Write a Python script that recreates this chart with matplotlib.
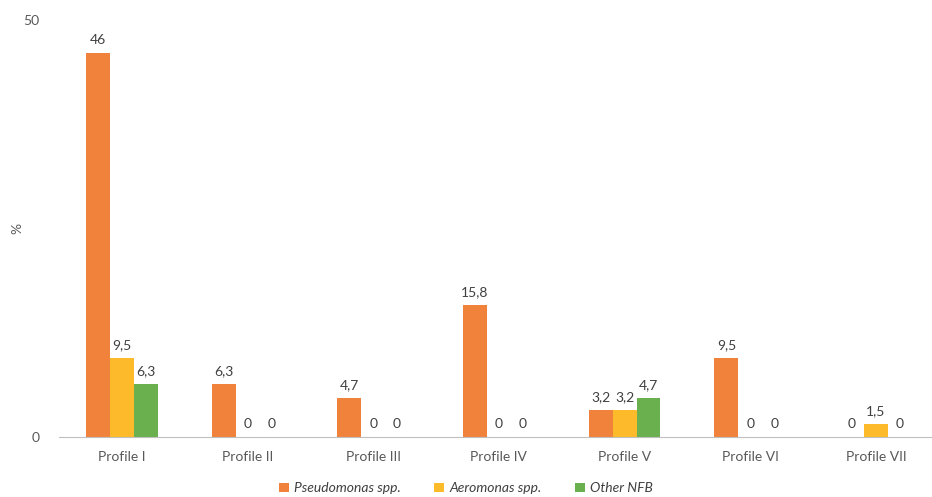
import numpy as np
import matplotlib
matplotlib.use("Agg")
import matplotlib.pyplot as plt

plt.rcParams['font.family'] = ['Lato', 'DejaVu Sans']

profiles = ["Profile I", "Profile II", "Profile III", "Profile IV",
            "Profile V", "Profile VI", "Profile VII"]
pseudomonas = [46, 6.3, 4.7, 15.8, 3.2, 9.5, 0]
aeromonas = [9.5, 0, 0, 0, 3.2, 0, 1.5]
other_nfb = [6.3, 0, 0, 0, 4.7, 0, 0]

series = [("Pseudomonas spp.", pseudomonas, "#F0823C"),
          ("Aeromonas spp.", aeromonas, "#FDBB2B"),
          ("Other NFB", other_nfb, "#6AB04E")]

txt = "#595959"
fig = plt.figure(figsize=(9.32, 4.97), dpi=100)
ax = fig.add_axes([0.0633, 0.121, 0.944, 0.839])

x = np.arange(len(profiles))
w = 0.19
for k, (name, vals, col) in enumerate(series):
    pos = x + (k - 1) * w
    bars = ax.bar(pos, vals, width=w, color=col, label=name)
    for p, v in zip(pos, vals):
        lab = ("%g" % v).replace(".", ",")
        ax.annotate(lab, (p, v), xytext=(0, 5), textcoords="offset points",
                    ha="center", va="bottom", fontsize=10, color="#404040")

ax.set_xlim(-0.5, len(profiles) - 0.5)
ax.set_ylim(0, 50)
ax.set_yticks([0, 50])
ax.set_xticks(x)
ax.set_xticklabels(profiles)
ax.tick_params(length=0, colors=txt, labelsize=10)
ax.tick_params(axis="x", pad=10)
ax.tick_params(axis="y", pad=14)
for s in ["top", "right", "left"]:
    ax.spines[s].set_visible(False)
ax.spines["bottom"].set_color("#BFBFBF")
ax.set_ylabel("%", color=txt, fontsize=10, labelpad=0)

leg = fig.legend(loc="lower center", bbox_to_anchor=(0.5, -0.02), ncol=3,
                 frameon=False, handlelength=0.7, handleheight=0.7,
                 columnspacing=2.4, handletextpad=0.4,
                 prop={"style": "italic", "size": 10})
for t in leg.get_texts():
    t.set_color("#404040")

fig.savefig("out.png", dpi=100)
